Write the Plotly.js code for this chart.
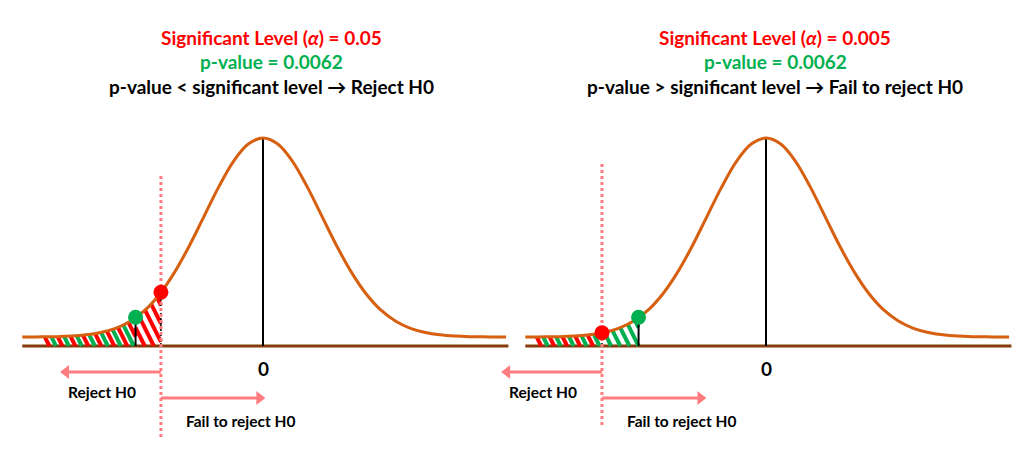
<!DOCTYPE html>
<html>
<head>
<meta charset="utf-8">
<script src="https://cdn.plot.ly/plotly-3.0.1.min.js"></script>
<style>html,body{margin:0;padding:0;background:#fff;}#chart{width:1024px;height:454px;}</style>
</head>
<body>
<div id="chart"></div>
<script>
// ---------- DATA ----------
// standardised position along the axis and height of the bell curve (peak = 1)
const zGrid   = [-4.08, -4, -3.75, -3.5, -3.25, -3, -2.75, -2.5, -2.25, -2, -1.75, -1.5, -1.25, -1, -0.75, -0.5, -0.25,
                 0, 0.25, 0.5, 0.75, 1, 1.25, 1.5, 1.75, 2, 2.25, 2.5, 2.75, 3, 3.25, 3.5, 3.75, 4, 4.12];
const density = [0.043, 0.043, 0.044, 0.045, 0.048, 0.054, 0.065, 0.085, 0.119, 0.172, 0.250, 0.354, 0.481, 0.623, 0.765, 0.888, 0.971,
                 1.000, 0.971, 0.888, 0.765, 0.623, 0.481, 0.354, 0.250, 0.172, 0.119, 0.085, 0.065, 0.054, 0.048, 0.045, 0.044, 0.043, 0.043];
const baselineZ = [-4.08, 4.16];
const alphaLabels   = ['0.05', '0.005'];
const pValueLabel   = '0.0062';
const decisionTexts = ['p-value &lt; significant level → Reject H0', 'p-value &gt; significant level → Fail to reject H0'];
const criticalZ = [-1.73, -2.78];   // significance level cut-off
const pValueZ   = [-2.16, -2.16];   // observed statistic
const hatchStartZ = [-3.73, -3.92];
const centerLabel = '0';
const rejectLabel = 'Reject H0';
const failLabel   = 'Fail to reject H0';

// ---------- LAYOUT CONSTANTS ----------
const W = 1024, H = 454;
const pxPerZ = 59, pxPerY = 208, baselinePx = 346;
const centerPx = [263, 766];
const domainPx = [[0, 512], [490, 1024]];
const titleCenterPx = [271, 775];
const dottedExtent = [[0.817, -0.44], [0.875, -0.38]];
const RED = '#FF0000', GREEN = '#00B050', CURVE = '#D65F10', BASE = '#843C0C', SALMON = '#FF7C80';
const FONT = 'Lato, "Open Sans", sans-serif';

function f(z) {
  if (z <= zGrid[0]) return density[0];
  if (z >= zGrid[zGrid.length - 1]) return density[density.length - 1];
  for (let i = 0; i < zGrid.length - 1; i++) {
    if (z >= zGrid[i] && z <= zGrid[i + 1]) {
      const t = (z - zGrid[i]) / (zGrid[i + 1] - zGrid[i]);
      return density[i] + t * (density[i + 1] - density[i]);
    }
  }
  return density[0];
}

const slant = 0.5 * pxPerY / pxPerZ; // z-units per y-unit for the hatch stripes
function hatch(L, R, period, colors) {
  const segs = colors.map(() => ({x: [], y: []}));
  let idx = 0;
  for (let xb = L; xb <= R + slant * 1.05; xb += period, idx++) {
    const y0 = Math.max(0, (xb - R) / slant);
    if (xb - slant * y0 < L) continue;
    if (f(xb - slant * y0) - y0 < 0) continue;
    let lo = y0, hi = 1.2;
    for (let it = 0; it < 50; it++) {
      const mid = (lo + hi) / 2;
      if (f(xb - slant * mid) - mid >= 0) lo = mid; else hi = mid;
    }
    const yTop = Math.min(lo, (xb - L) / slant);
    if (yTop <= y0 + 1e-4) continue;
    const s = segs[idx % colors.length];
    s.x.push(xb - slant * y0, xb - slant * yTop, null);
    s.y.push(y0, yTop, null);
  }
  return segs;
}

const traces = [];
const annotations = [];
const layout = {
  width: W, height: H, margin: {l: 0, r: 0, t: 0, b: 0},
  paper_bgcolor: '#fff', plot_bgcolor: 'rgba(0,0,0,0)', showlegend: false,
  yaxis: {domain: [0, 1], range: [-(H - baselinePx) / pxPerY, baselinePx / pxPerY], visible: false, fixedrange: true}
};

[0, 1].forEach(p => {
  const xa = p === 0 ? 'x' : 'x2';
  const axKey = p === 0 ? 'xaxis' : 'xaxis2';
  layout[axKey] = {
    domain: [domainPx[p][0] / W, domainPx[p][1] / W],
    range: [(domainPx[p][0] - centerPx[p]) / pxPerZ, (domainPx[p][1] - centerPx[p]) / pxPerZ],
    visible: false, fixedrange: true, anchor: 'y'
  };
  const base = {xaxis: xa, yaxis: 'y', hoverinfo: 'skip', showlegend: false};
  const crit = criticalZ[p], pz = pValueZ[p];
  const inner = Math.min(crit, pz), outer = Math.max(crit, pz);
  const outerColor = crit > pz ? RED : GREEN;

  // baseline
  traces.push(Object.assign({type: 'scatter', mode: 'lines', x: baselineZ, y: [0, 0],
    line: {color: BASE, width: 3}}, base));
  // hatching
  const alt = hatch(hatchStartZ[p], inner, 0.11, [GREEN, RED]);
  const single = hatch(inner, outer, 0.155, [outerColor]);
  [[alt[0], GREEN], [alt[1], RED], [single[0], outerColor]].forEach(([s, c]) => {
    traces.push(Object.assign({type: 'scatter', mode: 'lines', x: s.x, y: s.y, connectgaps: false,
      line: {color: c, width: 4}}, base));
  });
  // peak line
  traces.push(Object.assign({type: 'scatter', mode: 'lines', x: [0, 0], y: [0, f(0)],
    line: {color: '#000', width: 2}}, base));
  // p-value drop line
  traces.push(Object.assign({type: 'scatter', mode: 'lines', x: [pz, pz], y: [0, f(pz)],
    line: {color: '#000', width: 2}}, base));
  // critical drop line
  traces.push(Object.assign({type: 'scatter', mode: 'lines', x: [crit, crit], y: [0, f(crit)],
    line: {color: '#000', width: 1.5, dash: '3px,2px'}}, base));
  // curve
  traces.push(Object.assign({type: 'scatter', mode: 'lines', x: zGrid, y: density,
    line: {color: CURVE, width: 3, shape: 'spline', smoothing: 1}}, base));
  // dotted critical line
  traces.push(Object.assign({type: 'scatter', mode: 'lines', x: [crit, crit], y: dottedExtent[p],
    line: {color: SALMON, width: 3, dash: 'dot'}}, base));
  // dots
  traces.push(Object.assign({type: 'scatter', mode: 'markers', x: [crit], y: [f(crit)],
    marker: {color: RED, size: 15}}, base));
  traces.push(Object.assign({type: 'scatter', mode: 'markers', x: [pz], y: [f(pz)],
    marker: {color: GREEN, size: 15}}, base));
  // arrows
  const yRej = -26 / pxPerY, yFail = -52 / pxPerY;
  const rejTip = crit - 1.71, failTip = crit + 1.77;
  const headZ = 6 / pxPerZ;
  traces.push(Object.assign({type: 'scatter', mode: 'lines', x: [crit, rejTip + headZ], y: [yRej, yRej],
    line: {color: SALMON, width: 3}}, base));
  traces.push(Object.assign({type: 'scatter', mode: 'lines', x: [crit, failTip - headZ], y: [yFail, yFail],
    line: {color: SALMON, width: 3}}, base));
  traces.push(Object.assign({type: 'scatter', mode: 'markers', x: [rejTip + headZ], y: [yRej],
    marker: {symbol: 'triangle-left', color: SALMON, size: 12}}, base));
  traces.push(Object.assign({type: 'scatter', mode: 'markers', x: [failTip - headZ], y: [yFail],
    marker: {symbol: 'triangle-right', color: SALMON, size: 12}}, base));

  // axis labels
  annotations.push({xref: xa, yref: 'y', x: 0, y: -22 / pxPerY, xanchor: 'center', yanchor: 'middle',
    text: '<b>' + centerLabel + '</b>', showarrow: false, font: {family: FONT, size: 19, color: '#000'}});
  annotations.push({xref: xa, yref: 'y', x: crit - 1.0, y: -46 / pxPerY, xanchor: 'center', yanchor: 'middle',
    text: '<b>' + rejectLabel + '</b>', showarrow: false, font: {family: FONT, size: 15.5, color: '#000'}});
  annotations.push({xref: xa, yref: 'y', x: crit + 1.35, y: -75 / pxPerY, xanchor: 'center', yanchor: 'middle',
    text: '<b>' + failLabel + '</b>', showarrow: false, font: {family: FONT, size: 15.5, color: '#000'}});
  // titles
  const tx = titleCenterPx[p] / W;
  annotations.push({xref: 'paper', yref: 'paper', x: tx, y: 1 - 38 / H, xanchor: 'center', yanchor: 'middle',
    text: '<b>Significant Level (<i>α</i>) = ' + alphaLabels[p] + '</b>', showarrow: false,
    font: {family: FONT, size: 19, color: RED}});
  annotations.push({xref: 'paper', yref: 'paper', x: tx, y: 1 - 62 / H, xanchor: 'center', yanchor: 'middle',
    text: '<b>p-value = ' + pValueLabel + '</b>', showarrow: false,
    font: {family: FONT, size: 19, color: GREEN}});
  annotations.push({xref: 'paper', yref: 'paper', x: tx, y: 1 - 86 / H, xanchor: 'center', yanchor: 'middle',
    text: '<b>' + decisionTexts[p] + '</b>', showarrow: false,
    font: {family: FONT, size: 19, color: '#000'}});
});
layout.annotations = annotations;

Plotly.newPlot('chart', traces, layout, {staticPlot: true, displayModeBar: false});
</script>
</body>
</html>
